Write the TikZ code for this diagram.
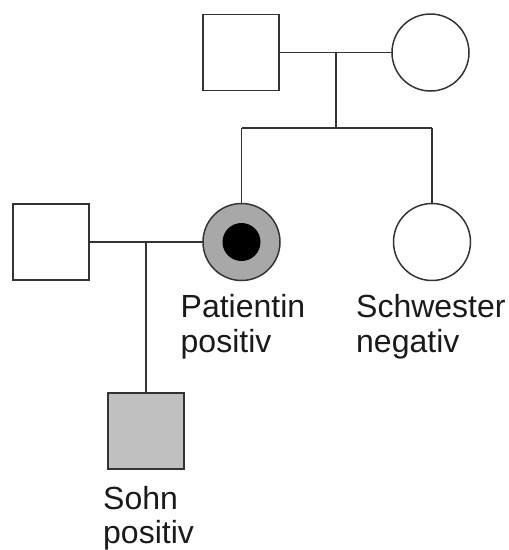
\documentclass[tikz,border=0pt]{standalone}
\usepackage{fontspec}
\setmainfont{Liberation Sans}
\definecolor{lin}{HTML}{333333}
\definecolor{txt}{HTML}{1A1A1A}
\definecolor{patgray}{HTML}{A8A8A8}
\definecolor{songray}{HTML}{C0C0C0}
\begin{document}
\begin{tikzpicture}[x=1pt,y=-1pt,
  male/.style={draw=lin,line width=1.5pt,rectangle,minimum size=76pt,inner sep=0pt,outer sep=0pt},
  female/.style={draw=lin,line width=1.5pt,circle,minimum size=77pt,inner sep=0pt,outer sep=0pt},
  conn/.style={draw=lin,line width=1.5pt},
  lbl/.style={anchor=base west,inner sep=0pt,text=txt,font=\fontsize{32}{36}\selectfont}]
\useasboundingbox (0,0) rectangle (509,550);
% parents
\node[male] (gf) at (241,52.5) {};
\node[female] (gm) at (430.5,52.5) {};
% children
\node[female,fill=patgray] (pat) at (241.5,242) {};
\node[circle,fill=black,minimum size=38pt,inner sep=0pt] (patdot) at (pat.center) {};
\node[female] (sis) at (432,242) {};
% spouse and son
\node[male] (hus) at (51,242) {};
\node[male,fill=songray] (son) at (146,431) {};
% connector points
\coordinate (m1) at (336,52.5);
\coordinate (sib) at (336,128);
\coordinate (sibl) at (241.5,128);
\coordinate (sibr) at (432,128);
\coordinate (m2) at (146,242);
\draw[conn] (gf.east) -- (gm.west);
\draw[conn] (m1) -- (sib);
\draw[conn] (sibl) -- (sibr);
\draw[conn] (sibl) -- (pat.north);
\draw[conn] (sibr) -- (sis.north);
\draw[conn] (hus.east) -- (pat.west);
\draw[conn] (m2) -- (son.north);
% labels
\node[lbl] (l1) at (180.5,317) {Patientin};
\node[lbl] (l2) at (180.5,352) {positiv};
\node[lbl] (l3) at (356,317) {Schwester};
\node[lbl] (l4) at (356,352) {negativ};
\node[lbl] (l5) at (103,509) {Sohn};
\node[lbl] (l6) at (103,543) {positiv};
\end{tikzpicture}
\end{document}
